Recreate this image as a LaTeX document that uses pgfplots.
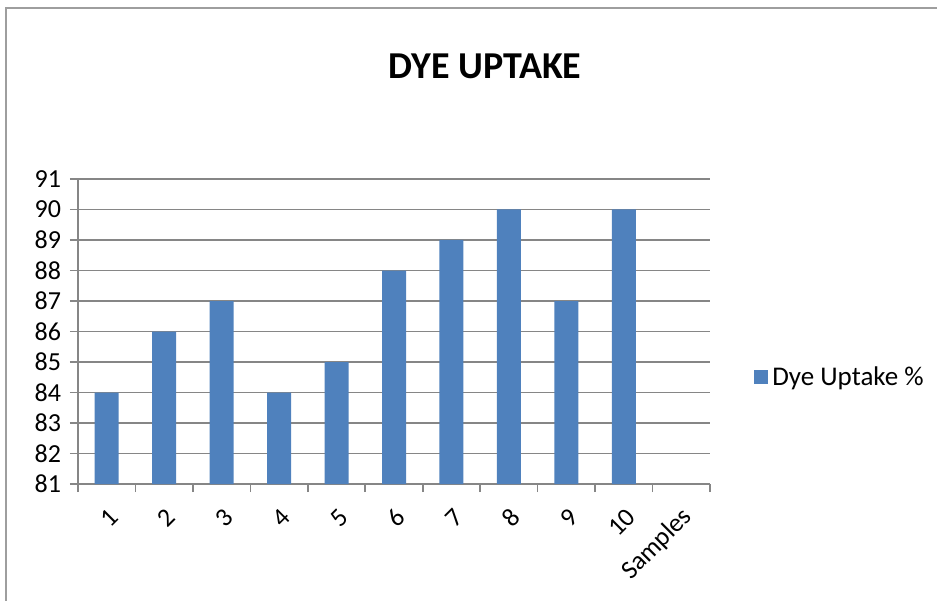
\documentclass[border=0pt]{standalone}
\usepackage{pgfplots}
\pgfplotsset{compat=1.18}
\usepackage{fontspec}
\setmainfont{Carlito}
\definecolor{barblue}{HTML}{4F81BD}
\definecolor{gridgray}{HTML}{868686}
\begin{document}
\begin{tikzpicture}
\useasboundingbox (0,0) rectangle (468.5pt,300pt);
\draw[gridgray!80, line width=0.8pt] (3pt,-5pt) -- (3pt,296pt) -- (475pt,296pt);
\node[font=\fontsize{19}{21}\selectfont\bfseries] at (242.5pt,267pt) {DYE UPTAKE};
\begin{axis}[
  at={(39pt,58pt)}, anchor=origin,
  scale only axis,
  width=316pt, height=152.5pt,
  ymin=81, ymax=91,
  xmin=0.5, xmax=11.5,
  ytick={81,...,91},
  xtick={1,...,11},
  xticklabels={1,2,3,4,5,6,7,8,9,10,Samples},
  major x tick style={draw=none},
  minor xtick={0.5,1.5,...,11.5},
  minor x tick style={draw=gridgray, line width=0.8pt},
  minor tick length=4pt,
  axis x line*=bottom,
  axis y line*=left,
  axis line style={draw=gridgray, line width=0.8pt, -},
  tick align=outside,
  major tick length=4pt,
  y tick style={draw=gridgray, line width=0.8pt},
  ymajorgrids,
  grid style={draw=gridgray, line width=0.8pt},
  tick label style={font=\fontsize{13}{15}\selectfont},
  /pgf/number format/assume math mode=true,
  xticklabel style={rotate=45, anchor=east, yshift=-10pt, xshift=-1.5pt},
  yticklabel style={xshift=-1pt},
  ybar, bar width=12pt,
  legend style={at={(rel axis cs:1.06,0.35)}, anchor=west, draw=none, font=\fontsize{13.5}{15}\selectfont},
  legend image code/.code={\fill[barblue] (0pt,-3.5pt) rectangle (7pt,3.5pt);},
]
\addplot[fill=barblue, draw=none] coordinates {(1,84) (2,86) (3,87) (4,84) (5,85) (6,88) (7,89) (8,90) (9,87) (10,90)};
\addlegendentry{Dye Uptake \%}
\end{axis}
\end{tikzpicture}
\end{document}
